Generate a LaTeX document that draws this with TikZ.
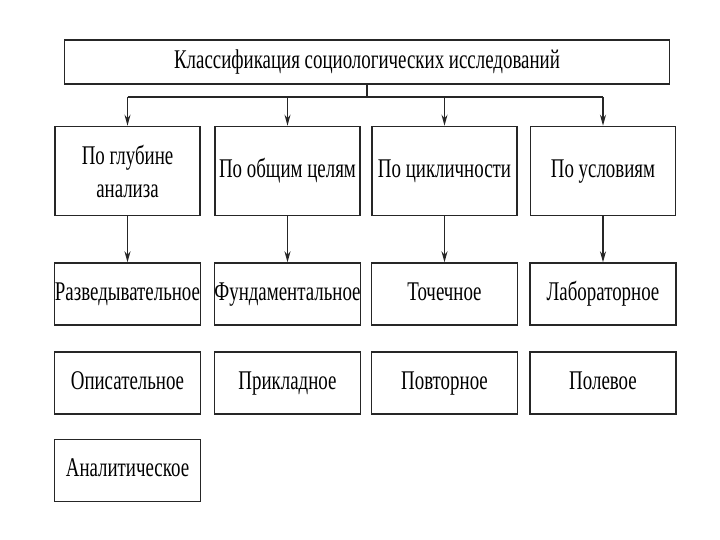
\documentclass[tikz,border=0pt]{standalone}
\usepackage{fontspec}
\setmainfont{Liberation Serif}[FakeStretch=0.7]
\usetikzlibrary{arrows.meta,positioning}

\begin{document}
\begin{tikzpicture}
[x=1pt,y=-1pt,
node distance=46pt,
every node/.style={font=\fontsize{27}{33}\selectfont},
box/.style={rectangle,draw=black!85,line width=1.6pt,fill=white,align=center,inner sep=0pt},
head/.style={box,minimum width=605pt,minimum height=44pt,text height=19pt,text depth=6pt},
kind/.style={box,minimum width=145pt,minimum height=89pt},
item/.style={box,minimum width=146pt,minimum height=62pt,text height=19pt,text depth=6pt},
link/.style={line width=1.6pt,black!85},
post/.style={-{Stealth[length=11pt,width=6pt]},line width=1.4pt,black!85}]
\useasboundingbox (0,0) rectangle (720,540);
\node[head] (title) at (367,62) {Классификация социологических исследований};
\node[kind] (depth) at (127.5,171) {По глубине\\анализа};
\node[kind,text height=19pt,text depth=6pt] (goals) at (287.5,171) {По общим целям};
\node[kind,text height=19pt,text depth=6pt] (cycle) at (444.5,171) {По цикличности};
\node[kind,text height=19pt,text depth=6pt] (cond) at (603,171) {По условиям};
\node[item] (explor) [below=of depth] {Разведывательное};
\node[item] (descr) [below=25pt of explor] {Описательное};
\node[item] (analyt) [below=24pt of descr] {Аналитическое};
\node[item] (fund) [below=of goals] {Фундаментальное};
\node[item] (appl) [below=25pt of fund] {Прикладное};
\node[item] (point) [below=of cycle] {Точечное};
\node[item] (repeat) [below=25pt of point] {Повторное};
\node[item] (lab) [below=of cond] {Лабораторное};
\node[item] (field) [below=25pt of lab] {Полевое};
% bus from the title
\coordinate (bus) at (367,97);
\draw[link] (title.south) -- (bus);
\draw[link] (depth.north |- bus) -- (cond.north |- bus);
\foreach \k in {depth,goals,cycle,cond}
  \draw[post] (\k.north |- bus) -- (\k.north);
\draw[post] (depth) -- (explor);
\draw[post] (goals) -- (fund);
\draw[post] (cycle) -- (point);
\draw[post] (cond) -- (lab);
\end{tikzpicture}
\end{document}
